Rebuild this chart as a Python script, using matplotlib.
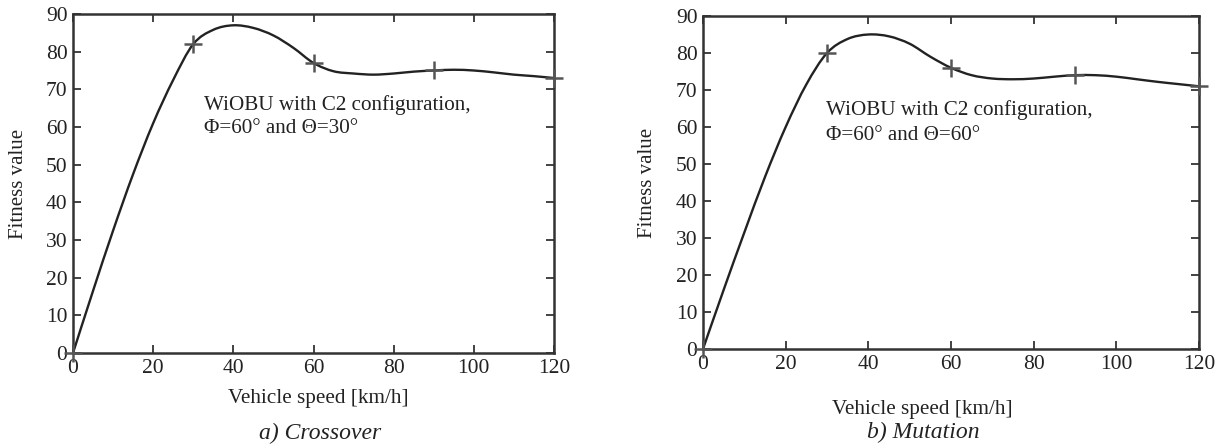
import matplotlib
matplotlib.use("Agg")
import matplotlib.pyplot as plt
from matplotlib.path import Path
from matplotlib.patches import PathPatch

# marker points (speed in km/h, fitness value)
speeds = [0, 30, 60, 90, 120]
fit_crossover = [0, 82, 77, 75, 73]
fit_mutation = [0, 80, 76, 74, 71]

# the drawn curve, every 5 km/h
curve_speeds = [0, 5, 10, 15, 20, 25, 30, 35, 40, 45, 50, 55, 60,
                65, 70, 75, 80, 85, 90, 95, 100, 105, 110, 115, 120]
curve_crossover = [0, 16.5, 32.5, 47.5, 61, 72.5, 82, 85.8, 87, 86.3, 84.3, 81, 77,
                   74.8, 74.2, 73.9, 74.2, 74.7, 75, 75.2, 75, 74.5, 73.9, 73.5, 73]
curve_mutation = [0, 16, 31.5, 46.5, 60, 71.5, 80, 83.8, 85, 84.5, 82.5, 79, 76,
                  74, 73.1, 72.9, 73.1, 73.6, 74, 74, 73.6, 72.9, 72.2, 71.6, 71]

xticks = [0, 20, 40, 60, 80, 100, 120]
yticks = [0, 10, 20, 30, 40, 50, 60, 70, 80, 90]

plt.rcParams["font.family"] = ["Liberation Serif", "DejaVu Serif"]

W, H = 1225, 448
fig = plt.figure(figsize=(W / 100, H / 100), dpi=100)


def px_axes(left, top, right, bottom):
    return fig.add_axes([left / W, 1 - bottom / H, (right - left) / W, (bottom - top) / H])


def smooth_path(xs, ys):
    # Catmull-Rom through the read points, drawn as cubic Bezier segments
    pts = list(zip(xs, ys))
    verts = [pts[0]]
    codes = [Path.MOVETO]
    for i in range(len(pts) - 1):
        p0 = pts[i - 1] if i > 0 else pts[i]
        p1, p2 = pts[i], pts[i + 1]
        p3 = pts[i + 2] if i + 2 < len(pts) else pts[i + 1]
        c1 = (p1[0] + (p2[0] - p0[0]) / 6, p1[1] + (p2[1] - p0[1]) / 6)
        c2 = (p2[0] - (p3[0] - p1[0]) / 6, p2[1] - (p3[1] - p1[1]) / 6)
        verts += [c1, c2, p2]
        codes += [Path.CURVE4] * 3
    return Path(verts, codes)


panels = [
    dict(ax=px_axes(73, 14, 554, 353), curve=curve_crossover, pts=fit_crossover,
         angles="\u03a6=60\u00b0 and \u0398=30\u00b0", tx=32.7, ty=(65.8, 59.7),
         caption="a) Crossover", cap=(0.514, -0.236), xl=(0.509, -0.133), yl=-0.114),
    dict(ax=px_axes(703, 16, 1199, 349), curve=curve_mutation, pts=fit_mutation,
         angles="\u03a6=60\u00b0 and \u0398=60\u00b0", tx=29.8, ty=(64.6, 57.8),
         caption="b) Mutation", cap=(0.4435, -0.252), xl=(0.4415, -0.183), yl=-0.111),
]

ink = "#222222"
for p in panels:
    ax = p["ax"]
    ax.add_patch(PathPatch(smooth_path(curve_speeds, p["curve"]), fill=False,
                           edgecolor=ink, lw=1.7, clip_on=False, zorder=3))
    ax.plot(speeds, p["pts"], ls="none", marker="+", ms=13, mew=1.8,
            color="#555555", clip_on=False, zorder=4)
    ax.set_xlim(0, 120)
    ax.set_ylim(0, 90)
    ax.set_xticks(xticks)
    ax.set_yticks(yticks)
    ax.tick_params(direction="in", length=6, width=1.2, top=True, right=True,
                   labelsize=15.5, colors=ink)
    ax.tick_params(axis="x", pad=4.5)
    ax.tick_params(axis="y", pad=4)
    for sp in ax.spines.values():
        sp.set_linewidth(1.8)
        sp.set_color("#333333")
    ax.set_xlabel("Vehicle speed [km/h]", fontsize=15.2, color=ink, va="center")
    ax.xaxis.set_label_coords(*p["xl"])
    ax.set_ylabel("Fitness value", fontsize=15, color=ink, va="center")
    ax.yaxis.set_label_coords(p["yl"], 0.5)
    ax.text(p["tx"], p["ty"][0], "WiOBU with C2 configuration,", fontsize=15.2,
            va="center", ha="left", color=ink)
    ax.text(p["tx"], p["ty"][1], p["angles"], fontsize=15.2,
            va="center", ha="left", color=ink)
    ax.text(p["cap"][0], p["cap"][1], p["caption"], transform=ax.transAxes,
            ha="center", va="center", fontsize=17, style="italic", color=ink)

fig.savefig("out.png", dpi=100)
